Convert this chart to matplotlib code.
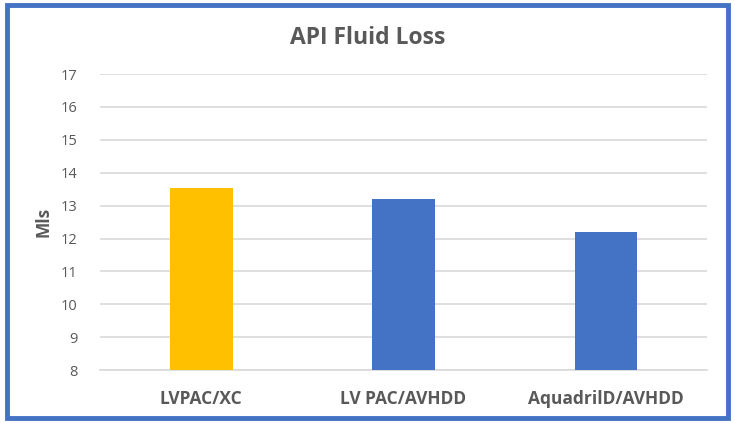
import matplotlib.pyplot as plt
from matplotlib.patches import Rectangle

categories = ['LVPAC/XC', 'LV PAC/AVHDD', 'AquadrilD/AVHDD']
values = [13.55, 13.2, 12.2]
bar_colors = ['#FFC000', '#4472C4', '#4472C4']
yticks = [8, 9, 10, 11, 12, 13, 14, 15, 16, 17]

plt.rcParams['font.family'] = ['Open Sans', 'DejaVu Sans']

fig = plt.figure(figsize=(7.35, 4.23), dpi=100)
ax = fig.add_axes([0.136, 0.125, 0.826, 0.70])

x = range(len(categories))
ax.bar(x, values, width=0.31, color=bar_colors, bottom=0, zorder=3)
ax.set_ylim(8, 17)
ax.set_xlim(-0.5, 2.5)
ax.set_yticks(yticks)
ax.set_xticks(list(x))
ax.set_xticklabels(categories, fontsize=12.5, fontweight='bold', color='#595959')
ax.tick_params(axis='y', labelsize=10.5, colors='#595959', length=0, pad=16)
ax.tick_params(axis='x', length=0, pad=14)
ax.yaxis.grid(True, color='#D9D9D9', linewidth=1.2, zorder=0)
for s in ['top', 'right', 'left']:
    ax.spines[s].set_visible(False)
ax.spines['bottom'].set_color('#D9D9D9')
ax.spines['bottom'].set_linewidth(1.2)

ax.set_ylabel('Mls', fontsize=12.5, fontweight='bold', color='#595959', labelpad=6)
fig.text(0.5, 0.91, 'API Fluid Loss', ha='center', va='center',
         fontsize=16.5, fontweight='bold', color='#595959')

# blue border round the chart
fig.patches.append(Rectangle((0.009, 0.012), 0.982, 0.976, transform=fig.transFigure,
                             fill=False, edgecolor='#4472C4', linewidth=3.5))

fig.savefig('out.png', dpi=100)
